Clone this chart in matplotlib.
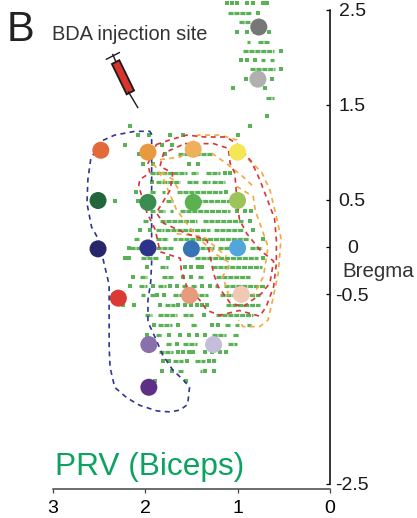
import matplotlib
matplotlib.use("Agg")
import matplotlib.pyplot as plt
from matplotlib.patches import Polygon

plt.rcParams['font.family'] = ['Liberation Sans', 'DejaVu Sans']

# labelled neurons: one row per AP level, number = single dot, tuple = run of dots
row_levels = [2.57, 2.47, 2.37, 2.27, 2.16, 2.07, 1.97, 1.88, 1.77, 1.68, 1.57, 1.38, 1.28,
              1.18, 1.08, 0.98, 0.88, 0.78, 0.69, 0.58, 0.49, 0.38, 0.27, 0.18, 0.08, -0.01,
              -0.12, -0.21, -0.32, -0.41, -0.51, -0.61, -0.72, -0.82, -0.93, -1.02, -1.11,
              -1.20, -1.31, -1.41]
row_runs = [
    [1.11, 1.06, 1.01, 0.90, 0.83, 0.73, 0.68],
    [(1.10, 0.85), 0.78],
    [(0.99, 0.87)],
    [1.01, 0.90, 0.81, 0.66],
    [(0.90, 0.87), (0.78, 0.66)],
    [(0.94, 0.61), 0.53],
    [0.96, 0.90, 0.81, (0.75, 0.70), (0.65, 0.61)],
    [(0.87, 0.60), 0.53],
    [0.91, 0.63],
    [1.05, 0.70],
    [(0.69, 0.61)],
    [0.68],
    [2.16, 0.87],
    [2.08, 1.96, 1.73, 1.59, 1.00],
    [2.22, 1.82, 1.71],
    [2.07, 1.79, (1.64, 1.50), (1.46, 1.28)],
    [2.02, 1.91, 1.53, 1.43],
    [(1.95, 1.71), (1.70, 1.55), (1.50, 1.43), (1.34, 1.19), 1.14, 1.08],
    [1.93, (1.88, 1.62), (1.55, 1.43), (1.39, 1.30), (1.28, 1.14)],
    [2.10, (1.95, 1.88), (1.82, 1.79), (1.66, 1.17), 1.12],
    [2.33, 2.08, (1.77, 1.70), (1.57, 1.08)],
    [(1.95, 1.89), (1.86, 1.79), (1.73, 1.70), (1.62, 1.08), 1.01, 0.92, 0.85],
    [(2.02, 1.97), (1.84, 1.44), (1.37, 0.94), 0.87],
    [2.06, 1.95, (1.88, 1.80), (1.79, 1.30), (1.26, 0.94), 0.83],
    [(2.12, 2.07), (1.88, 1.75), (1.70, 1.66), (1.64, 0.88), 0.72],
    [2.17, (2.16, 2.06), (1.88, 1.70), (1.41, 1.26), (1.21, 1.08), (0.87, 0.74)],
    [2.22, 2.17, (2.04, 1.86), 1.75, (1.46, 0.78), 0.72],
    [1.98, (1.84, 1.75), 1.57, 1.50, 1.43, 1.38, (1.28, 0.74)],
    [2.13, (2.06, 1.98), (1.82, 1.70), 1.59, 1.50, (1.43, 1.37), (1.23, 0.87)],
    [2.16, (2.07, 1.98), 1.91, (1.86, 1.77), 1.73, 1.66, (1.60, 1.55), (1.50, 1.44), 1.39, 1.30,
     (1.24, 1.21), (1.15, 0.70)],
    [(2.04, 2.00), (1.95, 1.89), 1.87, 1.80, (1.70, 1.60), (1.48, 1.32), (1.19, 0.76)],
    [2.24, 2.12, 1.84, (1.79, 1.68), 1.64, 1.57, 1.50, 1.44, 1.39, 1.33, (1.12, 0.76)],
    [(2.00, 1.93), (1.86, 1.66), (1.59, 1.48), 1.36, (1.23, 0.83)],
    [1.90, (1.86, 1.71), 1.64, (1.50, 1.44), 1.28, 1.21, (1.14, 1.08), (1.03, 0.99), (0.90, 0.85)],
    [1.98, (1.88, 1.82), 1.74, 1.62, 1.53, 1.44, 1.35, (1.28, 1.12), (1.05, 0.99)],
    [(1.77, 1.71), 1.66, (1.59, 1.44), (1.10, 1.01)],
    [(1.85, 1.70), 1.65, 1.59, 1.53, 1.48, 1.35, 1.28, 1.19, 1.12],
    [1.81, 1.74, (1.70, 1.59), 1.55, (1.46, 1.35), 1.31, 1.25],
    [1.82, 1.71, (1.64, 1.59), (1.41, 1.39), 1.35, 1.25],
    [1.89, 1.56],
]

# injection sites
site_x = [0.77, 0.78, 2.48, 1.97, 1.48, 1.00, 2.51, 1.97, 1.48, 1.00,
          2.51, 1.97, 1.50, 1.00, 2.29, 1.52, 0.96, 1.96, 1.26, 1.96]
site_y = [2.32, 1.77, 1.02, 1.00, 1.03, 1.00, 0.49, 0.47, 0.47, 0.49,
          -0.02, -0.01, -0.02, -0.01, -0.54, -0.51, -0.50, -1.03, -1.03, -1.48]
site_colors = ['#777777', '#b0b0b0', '#e2693a', '#ea9a3e', '#eeb05a', '#f5e754',
               '#22653a', '#3a8c50', '#5bb050', '#9cc45a',
               '#27266b', '#2c3389', '#3674b5', '#52a6dc',
               '#da3a33', '#e89a7c', '#f2c8b4', '#8a70ab', '#c6bcdc', '#5e2f86']

# dashed outlines
navy_x = [1.93, 1.95, 2.11, 2.33, 2.49, 2.59, 2.62, 2.63, 2.58, 2.51, 2.46, 2.39, 2.39, 2.39, 2.38,
          2.33, 2.20, 2.06, 1.87, 1.73, 1.62, 1.54, 1.52, 1.59, 1.70, 1.81, 1.89, 1.97, 1.97, 1.94,
          1.93, 1.93, 1.93, 1.93]
navy_y = [1.19, 1.22, 1.22, 1.18, 1.11, 0.92, 0.71, 0.46, 0.21, 0.09, -0.11, -0.40, -0.70, -1.05, -1.27,
          -1.48, -1.59, -1.67, -1.73, -1.74, -1.72, -1.66, -1.48, -1.40, -1.30, -1.14, -0.96, -0.79, -0.56, -0.37,
          -0.16, 0.50, 0.86, 1.19]
red_outer_x = [1.88, 1.73, 1.55, 1.35, 1.12, 1.00, 0.85, 0.76, 0.69, 0.60, 0.58, 0.58, 0.61, 0.69, 0.76,
               0.98, 1.19, 1.33, 1.41, 1.55, 1.61, 1.62, 1.84, 1.89, 1.98, 2.07, 2.06, 1.95, 1.97, 1.88]
red_outer_y = [1.08, 1.13, 1.18, 1.16, 1.16, 1.08, 0.90, 0.71, 0.53, 0.30, 0.07, -0.17, -0.42, -0.63, -0.73,
               -0.67, -0.72, -0.67, -0.56, -0.42, -0.24, -0.12, -0.05, 0.18, 0.36, 0.64, 0.71, 0.78, 0.88, 1.08]
red_inner_x = [1.57, 1.26, 1.10, 1.08, 1.03, 1.01, 0.98, 0.90, 0.76, 0.61, 0.65, 0.74, 0.94, 1.08, 1.21,
               1.26, 1.33, 1.55, 1.80, 1.88, 1.73, 1.70, 1.84, 1.80, 1.57]
red_inner_y = [1.09, 1.09, 1.04, 0.88, 0.78, 0.53, 0.29, 0.14, -0.03, -0.15, -0.38, -0.49, -0.63, -0.59, -0.42,
               -0.28, 0.07, 0.14, 0.25, 0.36, 0.60, 0.78, 0.85, 0.99, 1.09]
orange_a_x = [1.84, 1.62, 1.53, 1.43, 1.19, 1.01, 0.99, 0.74, 0.65, 0.58, 0.53, 0.56, 0.63, 0.67, 0.76, 0.94, 0.99]
orange_a_y = [0.92, 0.95, 1.02, 1.18, 1.18, 1.13, 1.02, 0.79, 0.60, 0.32, 0.09, -0.28, -0.60, -0.77, -0.84, -0.84, -0.77]
orange_b_x = [1.91, 1.80, 1.66, 1.44, 1.23, 1.08, 1.16, 1.08]
orange_b_y = [0.88, 0.71, 0.39, 0.11, -0.08, -0.17, -0.31, -0.56]
orange_c_x = [1.01, 0.83, 0.81, 0.67, 0.72, 0.83]
orange_c_y = [0.64, 0.53, 0.39, 0.00, -0.31, -0.51]
orange_d_x = [1.82, 1.70, 1.62]
orange_d_y = [0.79, 0.71, 0.57]
orange_e_x = [1.66, 1.37, 1.12]
orange_e_y = [0.14, 0.11, -0.10]
orange_f_x = [1.28, 1.12, 0.94, 0.81]
orange_f_y = [0.99, 0.88, 0.74, 0.62]

x_ticks = [3, 2, 1, 0]
y_ticks = [2.5, 1.5, 0.5, 0, -0.5, -2.5]
y_labels = ['2.5', '1.5', '0.5', '0', '-0.5', '-2.5']

green = '#5ab256'
red = '#d8343a'
orange = '#f2a93b'
navy = '#2f3690'

fig = plt.figure(figsize=(4.17, 5.18), dpi=100)
ax = fig.add_axes([0, 0, 1, 1])
ax.patch.set_alpha(0)
ax.set_xlim(3.571, -0.9416)
ax.set_ylim(-2.859, 2.605)

# dots
for level, runs in zip(row_levels, row_runs):
    for run in runs:
        if isinstance(run, tuple):
            ax.plot(run, [level, level], color=green, lw=2.3, ls=(0, (1.6, 0.25)), zorder=1)
        else:
            ax.scatter([run], [level], marker='s', s=6.5, color=green, linewidths=0, zorder=1)

# outlines
dash = dict(lw=1.2, ls=(0, (3, 2.6)), zorder=2)
ax.plot(orange_a_x, orange_a_y, color=orange, **dash)
ax.plot(orange_b_x, orange_b_y, color=orange, **dash)
ax.plot(orange_c_x, orange_c_y, color=orange, **dash)
ax.plot(orange_d_x, orange_d_y, color=orange, **dash)
ax.plot(orange_e_x, orange_e_y, color=orange, **dash)
ax.plot(orange_f_x, orange_f_y, color=orange, **dash)
ax.plot(red_outer_x, red_outer_y, color=red, **dash)
ax.plot(red_inner_x, red_inner_y, color=red, **dash)
ax.plot(navy_x, navy_y, color=navy, **dash)

ax.scatter(site_x, site_y, s=150, c=site_colors, linewidths=0, zorder=3)

# syringe
ax.add_patch(Polygon([(2.28, 1.97), (2.12, 1.65), (2.20, 1.61), (2.36, 1.93)],
                     facecolor='#d9332e', edgecolor='#1a1a1a', lw=1.3, zorder=4))
ax.plot([2.18, 2.08], [1.635, 1.47], color='#1a1a1a', lw=1.0, zorder=4)
ax.plot([2.32, 2.35], [1.96, 2.03], color='#1a1a1a', lw=1.0, zorder=4)
ax.plot([2.42, 2.28], [1.98, 2.05], color='#1a1a1a', lw=1.0, zorder=4)

# axes
for side in ['top', 'left']:
    ax.spines[side].set_visible(False)
ax.spines['right'].set_position(('data', 0))
ax.spines['right'].set_bounds(-2.5, 2.5)
ax.spines['right'].set_linewidth(1.1)
ax.spines['bottom'].set_position(('data', -2.553))
ax.spines['bottom'].set_bounds(0, 3)
ax.spines['bottom'].set_linewidth(1.1)
ax.spines['bottom'].set_color('#444444')

ax.set_xticks(x_ticks)
ax.set_xticklabels([str(t) for t in x_ticks])
ax.tick_params(axis='x', direction='out', length=3.2, width=0.9, color='#444444', labelsize=14, pad=5)
ax.yaxis.tick_right()
ax.set_yticks(y_ticks)
ax.set_yticklabels(y_labels)
ax.tick_params(axis='y', direction='in', length=3.2, width=0.9, labelsize=14, pad=16)
for lab in ax.get_yticklabels():
    lab.set_ha('center')
    lab.set_color('#1a1a1a')

# texts
fig.text(7 / 417, 1 - 41 / 518, 'B', fontsize=30, color='#222222', va='baseline')
fig.text(52 / 417, 1 - 40 / 518, 'BDA injection site', fontsize=14.4, color='#333333', va='baseline')
fig.text(342 / 417, 1 - 277 / 518, 'Bregma', fontsize=14.8, color='#333333', va='baseline')
fig.text(55 / 417, 1 - 475 / 518, 'PRV (Biceps)', fontsize=22.8, color='#0ba35f', va='baseline')

fig.savefig('out.png', dpi=100)
